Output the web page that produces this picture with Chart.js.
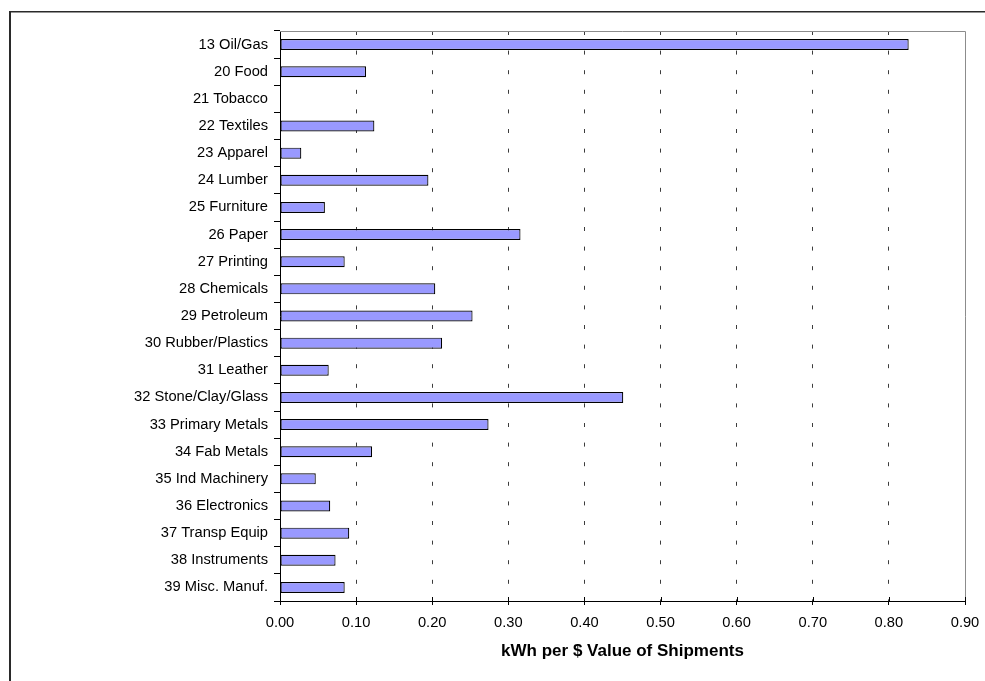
<!DOCTYPE html>
<html>
<head>
<meta charset="utf-8">
<script src="https://cdn.jsdelivr.net/npm/chart.js@4/dist/chart.umd.min.js"></script>
<style>
  html, body { margin: 0; padding: 0; background: #fff; }
  #wrap { width: 985px; height: 681px; }
</style>
</head>
<body>
<div id="wrap"><canvas id="c" width="985" height="681"></canvas></div>
<script>
// SIC industry groups
const categories = [
  '13 Oil/Gas', '20 Food', '21 Tobacco', '22 Textiles', '23 Apparel',
  '24 Lumber', '25 Furniture', '26 Paper', '27 Printing', '28 Chemicals',
  '29 Petroleum', '30 Rubber/Plastics', '31 Leather', '32 Stone/Clay/Glass',
  '33 Primary Metals', '34 Fab Metals', '35 Ind Machinery', '36 Electronics',
  '37 Transp Equip', '38 Instruments', '39 Misc. Manuf.'
];

// electricity use, kWh per dollar value of shipments
const kwhPerDollar = [
  0.826, 0.113, 0, 0.124, 0.028,
  0.195, 0.059, 0.316, 0.085, 0.204,
  0.253, 0.213, 0.064, 0.451,
  0.274, 0.121, 0.047, 0.066,
  0.091, 0.073, 0.085
];

// value axis range and labelling
const axisMin = 0;
const axisMax = 0.9;
const axisStep = 0.1;
const axisDecimals = 2;
const axisTitle = 'kWh per $ Value of Shipments';

const FONT = '"Liberation Sans", Arial, Helvetica, sans-serif';

// page frame, plot-area outline and the upper half of the value-axis tick marks
const decorations = {
  id: 'decorations',
  beforeDraw(chart) {
    const { ctx, width, height } = chart;
    ctx.save();
    ctx.fillStyle = '#fff';
    ctx.fillRect(0, 0, width, height);
    ctx.fillStyle = '#2a2a2a';
    ctx.fillRect(9, 11, 2, height - 11);
    ctx.fillRect(9, 11, width - 9, 1.5);
    ctx.restore();
  },
  afterDraw(chart) {
    const { ctx, chartArea: a } = chart;
    const xs = chart.scales.x;
    ctx.save();
    ctx.strokeStyle = '#8c8c8c';
    ctx.lineWidth = 1;
    ctx.beginPath();
    ctx.moveTo(a.left, a.top + 0.5);
    ctx.lineTo(a.right + 0.5, a.top + 0.5);
    ctx.lineTo(a.right + 0.5, a.bottom);
    ctx.stroke();
    ctx.strokeStyle = '#000';
    ctx.beginPath();
    xs.ticks.forEach(t => {
      const px = Math.round(xs.getPixelForValue(t.value)) + 0.5;
      ctx.moveTo(px, a.bottom - 4);
      ctx.lineTo(px, a.bottom + 0.5);
    });
    ctx.stroke();
    ctx.restore();
  }
};

new Chart(document.getElementById('c'), {
  type: 'bar',
  data: {
    labels: categories,
    datasets: [{
      data: kwhPerDollar,
      backgroundColor: '#9999FF',
      borderColor: '#000',
      borderWidth: 1.2,
      borderSkipped: false,
      barPercentage: 0.405,
      categoryPercentage: 1
    }]
  },
  options: {
    indexAxis: 'y',
    responsive: false,
    animation: false,
    events: [],
    layout: { padding: { left: 0, right: 20, top: 31, bottom: 0 } },
    plugins: {
      legend: { display: false },
      tooltip: { enabled: false },
      title: { display: false }
    },
    scales: {
      x: {
        type: 'linear',
        min: axisMin,
        max: axisMax,
        afterFit(scale) {
          scale.height = 80;
          scale.paddingLeft = 0;
          scale.paddingRight = 0;
        },
        ticks: {
          stepSize: axisStep,
          color: '#000',
          font: { family: FONT, size: 14.7 },
          padding: 9,
          maxRotation: 0,
          callback: v => Number(v).toFixed(axisDecimals)
        },
        grid: {
          color: c => {
            const v = c.tick ? c.tick.value : 0;
            return (Math.abs(v - axisMin) < 1e-9 || Math.abs(v - axisMax) < 1e-9) ? 'rgba(0,0,0,0)' : '#3c3c3c';
          },
          lineWidth: 1,
          tickColor: '#000',
          tickLength: 4,
          drawTicks: true
        },
        border: { display: true, color: '#000', width: 1, dash: [4, 15.6] },
        title: {
          display: true,
          text: axisTitle,
          color: '#000',
          font: { family: FONT, size: 17, weight: 'bold' },
          padding: { top: 4, bottom: 19 }
        }
      },
      y: {
        type: 'category',
        afterFit(scale) { scale.width = 280; },
        ticks: {
          color: '#000',
          font: { family: FONT, size: 14.7 },
          padding: 6,
          autoSkip: false
        },
        grid: {
          offset: true,
          drawOnChartArea: false,
          drawTicks: true,
          tickLength: 6,
          tickColor: '#000',
          color: '#000'
        },
        border: { display: true, color: '#000', width: 1 }
      }
    }
  },
  plugins: [decorations]
});
</script>
</body>
</html>
